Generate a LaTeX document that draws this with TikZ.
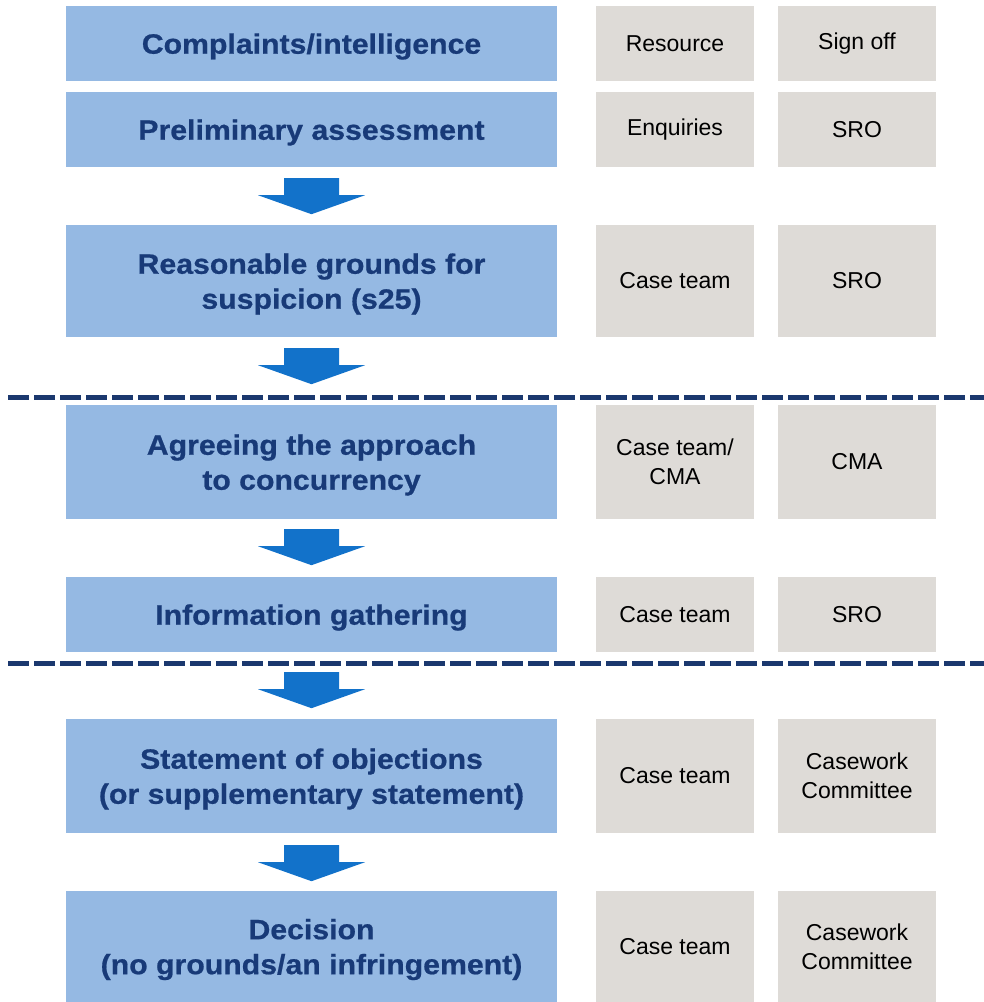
\documentclass[tikz,border=0pt]{standalone}
\usepackage{fontspec}
\newfontfamily\bluefont[FakeStretch=1.08,BoldFeatures={FakeBold=0.7}]{Liberation Sans}
\newfontfamily\greyfont{Liberation Sans}
\definecolor{boxblue}{RGB}{149,185,227}
\definecolor{textblue}{RGB}{24,58,120}
\definecolor{boxgrey}{RGB}{222,219,215}
\definecolor{arrowblue}{RGB}{18,114,202}
\definecolor{dashnavy}{RGB}{27,56,110}
\tikzset{
  bluebox/.style={rectangle, fill=boxblue, inner sep=0pt, minimum width=491},
  bluetext/.style={inner sep=0pt, align=center, text=textblue, yshift=-3pt,
    font=\bluefont\bfseries\fontsize{28}{35}\selectfont},
  greybox/.style={rectangle, fill=boxgrey, inner sep=0pt, minimum width=158, align=center,
    text=black, font=\greyfont\fontsize{23}{29}\selectfont},
  sepline/.style={draw=dashnavy, line width=5pt, dash pattern=on 21pt off 5pt},
  bigarrow/.pic={\fill[arrowblue] (-27.5,0) -- (27.5,0) -- (27.5,17) -- (53.5,17) -- (0,36)
     -- (-53.5,17) -- (-27.5,17) -- cycle;}
}
\begin{document}
\begin{tikzpicture}[x=1pt,y=-1pt]
\useasboundingbox (0,0) rectangle (984,1002);
% blue column
\node[bluebox, minimum height=75, label={[bluetext]center:Complaints/intelligence}] (b1) at (311.5,43.5) {};
\node[bluebox, minimum height=75, label={[bluetext]center:Preliminary assessment}] (b2) at (311.5,129.5) {};
\node[bluebox, minimum height=112, label={[bluetext]center:{Reasonable grounds for\\suspicion (s25)}}] (b3) at (311.5,281) {};
\node[bluebox, minimum height=114, label={[bluetext]center:{Agreeing the approach\\to concurrency}}] (b4) at (311.5,462) {};
\node[bluebox, minimum height=75, label={[bluetext]center:Information gathering}] (b5) at (311.5,614.5) {};
\node[bluebox, minimum height=114, label={[bluetext]center:{Statement of objections\\(or supplementary statement)}}] (b6) at (311.5,776) {};
\node[bluebox, minimum height=111, label={[bluetext]center:{Decision\\(no grounds/an infringement)}}] (b7) at (311.5,946.5) {};
% grey column 1
\node[greybox, minimum height=75] (r1) at (675,43.5) {Resource};
\node[greybox, minimum height=75] (r2) at (675,129.5) {Enquiries};
\node[greybox, minimum height=112] (r3) at (675,281) {Case team};
\node[greybox, minimum height=114] (r4) at (675,462) {Case team/\\CMA};
\node[greybox, minimum height=75] (r5) at (675,614.5) {Case team};
\node[greybox, minimum height=114] (r6) at (675,776) {Case team};
\node[greybox, minimum height=111] (r7) at (675,946.5) {Case team};
% grey column 2
\node[greybox, minimum height=75] (s1) at (857,43.5) {Sign off};
\node[greybox, minimum height=75] (s2) at (857,129.5) {SRO};
\node[greybox, minimum height=112] (s3) at (857,281) {SRO};
\node[greybox, minimum height=114] (s4) at (857,462) {CMA};
\node[greybox, minimum height=75] (s5) at (857,614.5) {SRO};
\node[greybox, minimum height=114] (s6) at (857,776) {Casework\\Committee};
\node[greybox, minimum height=111] (s7) at (857,946.5) {Casework\\Committee};
% arrows
\pic at ([yshift=-11pt]b2.south) {bigarrow};
\pic at ([yshift=-11pt]b3.south) {bigarrow};
\pic at ([yshift=-10pt]b4.south) {bigarrow};
\pic at ([yshift=-20pt]b5.south) {bigarrow};
\pic at ([yshift=-12pt]b6.south) {bigarrow};
% dashed separators
\coordinate (d1a) at (8,397);
\coordinate (d1b) at (984,397);
\coordinate (d2a) at (8,663);
\coordinate (d2b) at (984,663);
\draw[sepline] (d1a) -- (d1b);
\draw[sepline] (d2a) -- (d2b);
\end{tikzpicture}
\end{document}
